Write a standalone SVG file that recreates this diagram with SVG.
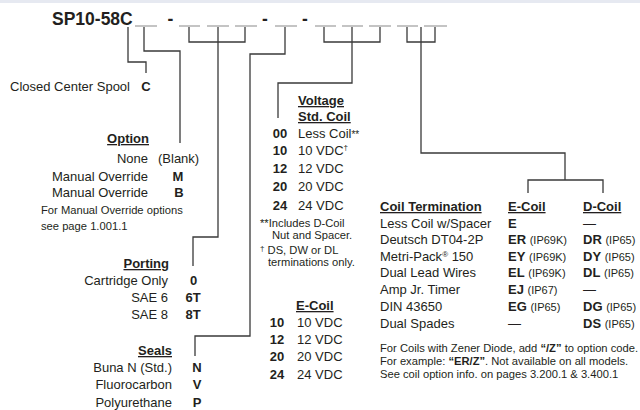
<svg xmlns="http://www.w3.org/2000/svg" width="640" height="410" viewBox="0 0 640 410">
<style>
text{font-family:"Liberation Sans",Arial,sans-serif;font-size:13px;fill:#231f20}
.b{font-weight:bold}
.h{font-weight:bold;text-decoration:underline}
.s{font-size:11.2px}
.ip{font-size:11px}
.e{text-anchor:end}
.m{text-anchor:middle}
.ttl{font-size:17.5px;font-weight:bold}
.c{fill:none;stroke:#3a3a3a;stroke-width:1.3}
.u{fill:none;stroke:#8a8a8a;stroke-width:1.2}
</style>
<rect x="0" y="0" width="640" height="3" fill="#e6e9f1"/>
<g id="title">
<text class="ttl" x="52" y="25">SP10-58C</text>
<text class="ttl m" x="170.5" y="25">-</text>
<text class="ttl m" x="265" y="25">-</text>
<text class="ttl m" x="305" y="25">-</text>
<path class="u" d="M135,26H157M179,26H200M207,26H229M235,26H257M275,26H297M315,26H336M342,26H363M369,26H391M397,26H418M424,26H447"/>
</g>
<g id="connectors">
<path class="c" d="M128,27V62H146V73"/>
<path class="c" d="M144,27V51H180V143"/>
<path class="c" d="M189,27V42H245V27M218,27V237H193V266"/>
<path class="c" d="M285,27V54H250V336H195V356"/>
<path class="c" d="M324,27V42H380V27M352,27V83H278V118"/>
<path class="c" d="M407,27V42H435V27M421,27V153H565V180M528,193V180H603V193"/>
</g>
<g id="spool">
<text class="e" x="130" y="91">Closed Center Spool</text>
<text class="b m" x="146" y="91">C</text>
</g>
<g id="option">
<text class="h e" x="149" y="143">Option</text>
<text class="e" x="148" y="163">None</text><text x="158" y="163">(Blank)</text>
<text class="e" x="148" y="181">Manual Override</text><text class="b m" x="178" y="181">M</text>
<text class="e" x="148" y="197">Manual Override</text><text class="b m" x="179" y="197">B</text>
<text class="s" x="41" y="214">For Manual Override options</text>
<text class="s" x="41" y="230">see page 1.001.1</text>
</g>
<g id="porting">
<text class="h e" x="169" y="268">Porting</text>
<text class="e" x="168" y="285">Cartridge Only</text><text class="b m" x="193.5" y="285">0</text>
<text class="e" x="168" y="302">SAE 6</text><text class="b m" x="193" y="302">6T</text>
<text class="e" x="168" y="319">SAE 8</text><text class="b m" x="193" y="319">8T</text>
</g>
<g id="seals">
<text class="h e" x="172" y="355">Seals</text>
<text class="e" x="172" y="372">Buna N (Std.)</text><text class="b m" x="197" y="372">N</text>
<text class="e" x="172" y="389">Fluorocarbon</text><text class="b m" x="197" y="389">V</text>
<text class="e" x="172" y="407">Polyurethane</text><text class="b m" x="197" y="407">P</text>
</g>
<g id="voltage">
<text class="h" x="298" y="105">Voltage</text>
<text class="h" x="298" y="121">Std. Coil</text>
<text class="b m" x="280" y="138">00</text><text x="298" y="138">Less Coil<tspan font-size="10">**</tspan></text>
<text class="b m" x="280" y="155">10</text><text x="298" y="155">10 VDC<tspan font-size="8" dy="-5">†</tspan></text>
<text class="b m" x="280" y="173">12</text><text x="298" y="173">12 VDC</text>
<text class="b m" x="280" y="191">20</text><text x="298" y="191">20 VDC</text>
<text class="b m" x="280" y="210">24</text><text x="298" y="210">24 VDC</text>
<text class="s" x="260" y="227">**Includes D-Coil</text>
<text class="s" x="272" y="239">Nut and Spacer.</text>
<text class="s" x="260" y="254"><tspan font-size="8" dy="-3">†</tspan><tspan dy="3"> DS, DW or DL</tspan></text>
<text class="s" x="268" y="266">terminations only.</text>
</g>
<g id="ecoil">
<text class="h" x="296" y="310">E-Coil</text>
<text class="b m" x="277" y="327">10</text><text x="297" y="327">10 VDC</text>
<text class="b m" x="277" y="344">12</text><text x="297" y="344">12 VDC</text>
<text class="b m" x="277" y="361">20</text><text x="297" y="361">20 VDC</text>
<text class="b m" x="277" y="379">24</text><text x="297" y="379">24 VDC</text>
</g>
<g id="termination">
<text class="h" x="380" y="211">Coil Termination</text>
<text class="h" x="508" y="211">E-Coil</text>
<text class="h" x="583" y="211">D-Coil</text>
<text x="380" y="228">Less Coil w/Spacer</text><text class="b" x="508" y="228">E</text><text x="583" y="228">—</text>
<text x="380" y="244">Deutsch DT04-2P</text><text x="508" y="244"><tspan class="b">ER</tspan> <tspan class="ip">(IP69K)</tspan></text><text x="583" y="244"><tspan class="b">DR</tspan> <tspan class="ip">(IP65)</tspan></text>
<text x="380" y="261">Metri-Pack<tspan font-size="8" dy="-4">®</tspan><tspan dy="4"> 150</tspan></text><text x="508" y="261"><tspan class="b">EY</tspan> <tspan class="ip">(IP69K)</tspan></text><text x="583" y="261"><tspan class="b">DY</tspan> <tspan class="ip">(IP65)</tspan></text>
<text x="380" y="277">Dual Lead Wires</text><text x="508" y="277"><tspan class="b">EL</tspan> <tspan class="ip">(IP69K)</tspan></text><text x="583" y="277"><tspan class="b">DL</tspan> <tspan class="ip">(IP65)</tspan></text>
<text x="380" y="294">Amp Jr. Timer</text><text x="508" y="294"><tspan class="b">EJ</tspan> <tspan class="ip">(IP67)</tspan></text><text x="583" y="294">—</text>
<text x="380" y="311">DIN 43650</text><text x="508" y="311"><tspan class="b">EG</tspan> <tspan class="ip">(IP65)</tspan></text><text x="583" y="311"><tspan class="b">DG</tspan> <tspan class="ip">(IP65)</tspan></text>
<text x="380" y="328">Dual Spades</text><text x="508" y="328">—</text><text x="583" y="328"><tspan class="b">DS</tspan> <tspan class="ip">(IP65)</tspan></text>
<text class="s" x="380" y="352">For Coils with Zener Diode, add <tspan class="b">“/Z”</tspan> to option code.</text>
<text class="s" x="380" y="365">For example: <tspan class="b">“ER/Z”</tspan>. Not available on all models.</text>
<text class="s" x="380" y="378">See coil option info. on pages 3.200.1 &amp; 3.400.1</text>
</g>
</svg>
